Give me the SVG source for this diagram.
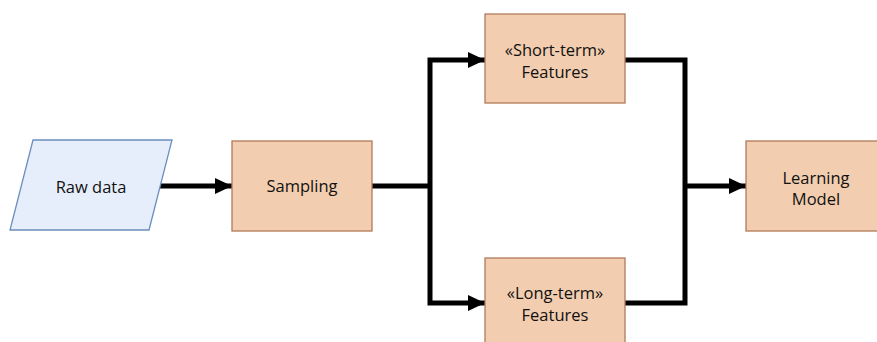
<svg xmlns="http://www.w3.org/2000/svg" width="877" height="342" viewBox="0 0 877 342">
  <defs>
    <marker id="arrow" markerUnits="userSpaceOnUse" markerWidth="18" markerHeight="16" refX="17" refY="8" orient="auto">
      <path d="M0,0 L17,8 L0,16 Z" fill="#000"/>
    </marker>
    <style>
      .box { fill: #F2CDAF; stroke: #B07A5A; stroke-width: 1.3; }
      .data { fill: #E6EEFB; stroke: #6C8EBF; stroke-width: 1.3; }
      .label { font-family: "Open Sans", "Liberation Sans", sans-serif; font-size: 16.5px; fill: #111; text-anchor: middle; }
      .wire { fill: none; stroke: #000; stroke-width: 5; stroke-linejoin: miter; }
    </style>
  </defs>
  <rect width="877" height="342" fill="#fff"/>

  <g id="connectors">
    <path class="wire" d="M160,186 H232" marker-end="url(#arrow)"/>
    <path class="wire" d="M372,186 H430"/>
    <path class="wire" d="M430,186 V60 H485" marker-end="url(#arrow)"/>
    <path class="wire" d="M430,186 V303 H485" marker-end="url(#arrow)"/>
    <path class="wire" d="M625,60 H685 V303 H625"/>
    <path class="wire" d="M685,186 H746" marker-end="url(#arrow)"/>
  </g>

  <g id="raw-data">
    <polygon class="data" points="33,140 172,140 149,230 10,230"/>
    <text class="label" x="91" y="193">Raw data</text>
  </g>

  <g id="sampling">
    <rect class="box" x="232" y="141" width="140" height="90"/>
    <text class="label" x="302" y="192">Sampling</text>
  </g>

  <g id="short-term">
    <rect class="box" x="485" y="14" width="140" height="89"/>
    <text class="label" x="555" y="56">«Short-term»</text>
    <text class="label" x="555" y="78">Features</text>
  </g>

  <g id="long-term">
    <rect class="box" x="485" y="258" width="140" height="90"/>
    <text class="label" x="555" y="299">«Long-term»</text>
    <text class="label" x="555" y="321">Features</text>
  </g>

  <g id="learning-model">
    <rect class="box" x="746" y="141" width="140" height="90"/>
    <text class="label" x="816" y="184">Learning</text>
    <text class="label" x="816" y="205">Model</text>
  </g>
</svg>
